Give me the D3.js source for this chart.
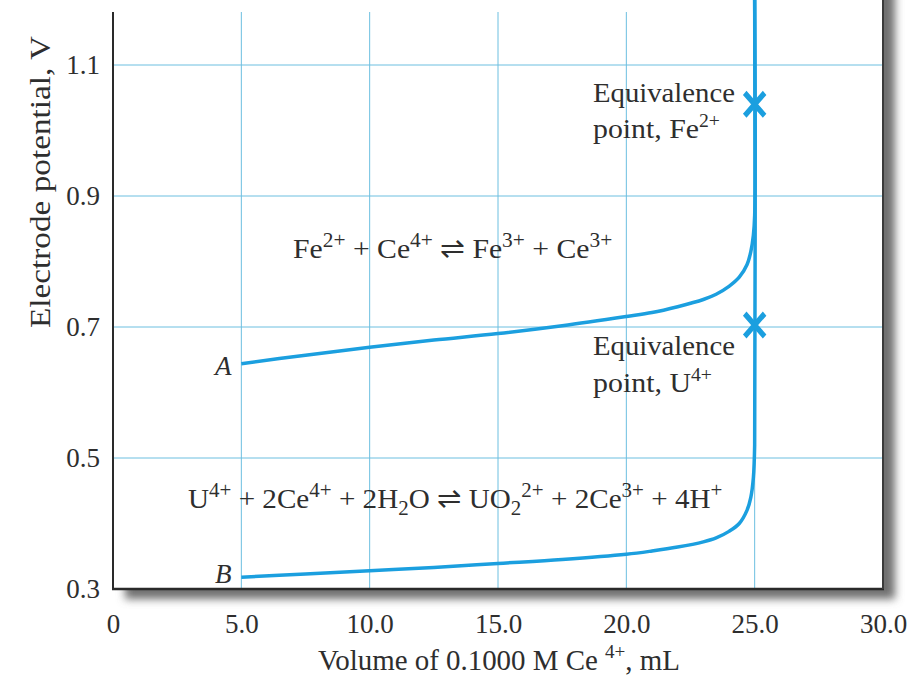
<!DOCTYPE html>
<html><head><meta charset="utf-8">
<script src="https://cdn.jsdelivr.net/npm/d3@7"></script>
<style>
body{margin:0;background:#fff}
svg{display:block}
text{font-family:"Liberation Serif","Times New Roman",serif;fill:#2e2e2e;white-space:pre}
</style></head>
<body><svg id="c" width="912" height="679"></svg>
<script>
// ---- data ----
const xTicks = [0, 5, 10, 15, 20, 25, 30];
const xTickLabels = ["0", "5.0", "10.0", "15.0", "20.0", "25.0", "30.0"];
const yTicks = [0.3, 0.5, 0.7, 0.9, 1.1];
const yTickLabels = ["0.3", "0.5", "0.7", "0.9", "1.1"];
const yGrid = [0.5, 0.7, 0.9, 1.1];
const xGrid = [5, 10, 15, 20, 25];

// Curve A: Fe2+ titrated with Ce4+
const volumeA    = [5.0, 7.5, 10.0, 12.5, 15.0, 17.5, 20.0, 21.0, 22.0, 23.0, 23.5, 24.0, 24.4, 24.7, 24.85, 24.95, 25.0, 25.0];
const potentialA = [0.644, 0.657, 0.669, 0.680, 0.690, 0.702, 0.716, 0.722, 0.731, 0.742, 0.750, 0.762, 0.776, 0.795, 0.815, 0.840, 0.870, 1.200];
// Curve B: U4+ titrated with Ce4+
const volumeB    = [5.0, 7.5, 10.0, 12.5, 15.0, 17.5, 20.0, 21.0, 22.0, 23.0, 23.5, 24.0, 24.4, 24.7, 24.85, 24.95, 25.0, 25.0];
const potentialB = [0.318, 0.323, 0.328, 0.333, 0.339, 0.345, 0.353, 0.358, 0.364, 0.372, 0.378, 0.388, 0.400, 0.420, 0.440, 0.470, 0.520, 1.200];
// Equivalence points
const eqVolume    = [25.0, 25.0];
const eqPotential = [1.04, 0.703];

// ---- layout ----
const svg = d3.select("#c");
const P = {left: 113, right: 883, top: 12, bottom: 589};
const x = d3.scaleLinear().domain([0, 30]).range([P.left, P.right]);
const y = d3.scaleLinear().domain([0.3, 1.1]).range([P.bottom, 65]);
const blue = "#1b9fdf", grid = "#6cbfe0";

const defs = svg.append("defs");
defs.append("filter").attr("id", "sh").attr("x", "-5%").attr("y", "-5%").attr("width", "110%").attr("height", "110%")
  .append("feGaussianBlur").attr("stdDeviation", 4);

// shadow + plot background
svg.append("rect").attr("x", P.left + 12).attr("y", -20).attr("width", P.right - P.left)
  .attr("height", P.bottom + 20 + 10).attr("fill", "#707070").attr("filter", "url(#sh)");
svg.append("rect").attr("x", P.left).attr("y", -20).attr("width", P.right - P.left)
  .attr("height", P.bottom + 20).attr("fill", "#fff");
svg.append("rect").attr("x", 0).attr("y", 0).attr("width", P.left).attr("height", P.top).attr("fill", "#fff");

// grid lines
svg.append("g").selectAll("line").data(xGrid).join("line")
  .attr("x1", d => x(d)).attr("x2", d => x(d)).attr("y1", P.top).attr("y2", P.bottom)
  .attr("stroke", grid).attr("stroke-width", 1);
svg.append("g").selectAll("line").data(yGrid).join("line")
  .attr("x1", P.left).attr("x2", P.right).attr("y1", d => y(d)).attr("y2", d => y(d))
  .attr("stroke", grid).attr("stroke-width", 1);

// axes (labels)
const gx = svg.append("g").attr("transform", `translate(0,${P.bottom})`)
  .call(d3.axisBottom(x).tickValues(xTicks).tickSize(0).tickFormat((d, i) => xTickLabels[i]));
gx.select(".domain").remove();
gx.selectAll("text").attr("y", 44).attr("dy", null).attr("font-size", 27);
const gy = svg.append("g").attr("transform", `translate(${P.left},0)`)
  .call(d3.axisLeft(y).tickValues(yTicks).tickSize(0).tickFormat((d, i) => yTickLabels[i]));
gy.select(".domain").remove();
gy.selectAll("text").attr("x", -13).attr("dy", "0.33em").attr("font-size", 27);

// frame
svg.append("line").attr("x1", P.left).attr("x2", P.left).attr("y1", P.top).attr("y2", P.bottom + 1)
  .attr("stroke", "#2a2a2a").attr("stroke-width", 2);
svg.append("line").attr("x1", P.left - 1).attr("x2", P.right + 1).attr("y1", P.bottom).attr("y2", P.bottom)
  .attr("stroke", "#2a2a2a").attr("stroke-width", 2.5);
svg.append("line").attr("x1", P.right).attr("x2", P.right).attr("y1", 0).attr("y2", P.bottom)
  .attr("stroke", "#3a3a3a").attr("stroke-width", 2);

// curves
const line = d3.line().x(d => x(d[0])).y(d => y(d[1])).curve(d3.curveCatmullRom.alpha(0.5));
svg.append("path").datum(d3.zip(volumeB, potentialB)).attr("d", line)
  .attr("fill", "none").attr("stroke", blue).attr("stroke-width", 3.5);
svg.append("path").datum(d3.zip(volumeA, potentialA)).attr("d", line)
  .attr("fill", "none").attr("stroke", blue).attr("stroke-width", 3.5);

// equivalence markers
svg.append("g").selectAll("path").data(d3.zip(eqVolume, eqPotential)).join("path")
  .attr("d", d3.symbol(d3.symbolX, 260))
  .attr("transform", d => `translate(${x(d[0])},${y(d[1])}) scale(1,1.15)`)
  .attr("fill", "none").attr("stroke", blue).attr("stroke-width", 5);

// rich text helper
function label(segs, o) {
  const fs = o.fs, sr = o.supRatio || 0.66;
  const g = svg.append("g");
  const t = g.append("text").attr("font-size", fs);
  if (o.italic) t.attr("font-style", "italic");
  if (o.anchor) t.attr("text-anchor", o.anchor);
  let cur = 0;
  segs.forEach(s => {
    const off = s.sup ? -0.40 * fs : s.sub ? 0.24 * fs : 0;
    t.append("tspan").attr("dy", off - cur).attr("font-size", (s.sup || s.sub) ? fs * sr : fs).text(s.t);
    cur = off;
  });
  const w = t.node().getComputedTextLength();
  const sx = o.width ? o.width / w : 1;
  g.attr("transform", `translate(${o.x},${o.y})` + (o.rotate ? " rotate(-90)" : "") + ` scale(${sx},1)`);
}

label([{t: "Volume of 0.1000 M Ce "}, {t: "4+", sup: 1}, {t: ", mL"}], {x: 499, y: 670, fs: 29, width: 362, anchor: "middle"});
label([{t: "Electrode potential, V"}], {x: 50, y: 182, fs: 30, width: 292, anchor: "middle", rotate: true});

label([{t: "Fe"}, {t: "2+", sup: 1}, {t: " + Ce"}, {t: "4+", sup: 1}, {t: " \u21CC Fe"}, {t: "3+", sup: 1}, {t: " + Ce"}, {t: "3+", sup: 1}],
  {x: 293, y: 258, fs: 28, width: 319, supRatio: 0.72});
label([{t: "U"}, {t: "4+", sup: 1}, {t: " + 2Ce"}, {t: "4+", sup: 1}, {t: " + 2H"}, {t: "2", sub: 1}, {t: "O \u21CC UO"}, {t: "2", sub: 1}, {t: "2+", sup: 1},
       {t: " + 2Ce"}, {t: "3+", sup: 1}, {t: " + 4H"}, {t: "+", sup: 1}],
  {x: 188, y: 508, fs: 28, width: 534, supRatio: 0.72});

label([{t: "Equivalence"}], {x: 593, y: 102, fs: 28, width: 142});
label([{t: "point, Fe"}, {t: "2+", sup: 1}], {x: 593, y: 138, fs: 28, width: 127});
label([{t: "Equivalence"}], {x: 593, y: 355, fs: 28, width: 142});
label([{t: "point, U"}, {t: "4+", sup: 1}], {x: 593, y: 392, fs: 28, width: 119});

label([{t: "A"}], {x: 215, y: 375, fs: 27, italic: true});
label([{t: "B"}], {x: 215, y: 583, fs: 27, italic: true});
</script></body></html>
